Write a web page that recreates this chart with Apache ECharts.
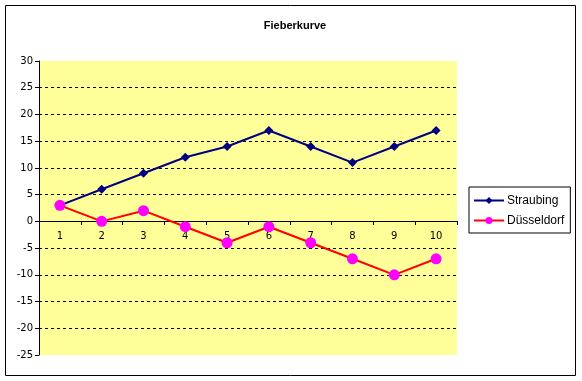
<!DOCTYPE html>
<html><head><meta charset="utf-8">
<script src="https://cdn.jsdelivr.net/npm/echarts@6/dist/echarts.min.js"></script>
<style>html,body{margin:0;padding:0;background:#fff}#c{width:582px;height:381px}</style>
</head><body><div id="c"></div>
<script>
var categories = ['1','2','3','4','5','6','7','8','9','10'];
var straubing = [3,6,9,12,14,17,14,11,14,17];
var duesseldorf = [3,0,2,-1,-4,-1,-4,-7,-10,-7];
var seriesNames = ['Straubing','Düsseldorf'];

var font = 'DejaVu Sans';
var chart = echarts.init(document.getElementById('c'), null, {renderer:'canvas'});
chart.setOption({
  animation:false,
  backgroundColor:'#fff',
  title:{text:'Fieberkurve', left:290, top:15, textAlign:'center',
    textStyle:{fontFamily:'Liberation Sans', fontSize:11, fontWeight:'bold', color:'#000'}},
  graphic:[{type:'rect', shape:{x:5.5,y:5.5,width:570,height:370}, style:{fill:null, stroke:'#000', lineWidth:1}, silent:true}],
  grid:{left:39, top:61, width:418, height:294, show:true, backgroundColor:'#FFFF99', borderWidth:0, containLabel:false},
  legend:{
    orient:'vertical', left:469, top:187,
    data:seriesNames,
    borderColor:'#000', borderWidth:1, padding:[6,6,5,4],
    itemGap:5, itemWidth:30, itemHeight:9,
    textStyle:{fontFamily:'Liberation Sans', fontSize:12, color:'#000', lineHeight:15, padding:[0,0,0,-2]}
  },
  xAxis:{type:'category', data:categories, boundaryGap:true,
    offset:-134,
    axisLine:{onZero:false, lineStyle:{color:'#000', width:1}},
    axisTick:{show:true, length:4, inside:false, lineStyle:{color:'#000'}},
    axisLabel:{fontFamily:font, fontSize:10, color:'#000', margin:10},
    splitLine:{show:false}},
  yAxis:{type:'value', min:-25, max:30, interval:5,
    axisLine:{show:true, lineStyle:{color:'#000', width:1}},
    axisTick:{show:true, length:4, lineStyle:{color:'#000'}},
    axisLabel:{fontFamily:font, fontSize:10, color:'#000', margin:6},
    splitLine:{show:true, showMinLine:false, showMaxLine:false, lineStyle:{color:'#000', type:[3,3], width:1}}},
  series:[
    {name:seriesNames[0], type:'line', data:straubing, symbol:'diamond', symbolSize:9,
      lineStyle:{color:'#000080', width:2}, itemStyle:{color:'#000080'}, z:3},
    {name:seriesNames[1], type:'line', data:duesseldorf, symbol:'circle', symbolSize:11,
      lineStyle:{color:'#FF0000', width:2}, itemStyle:{color:'#FF00FF'}, z:4}
  ]
});
</script></body></html>
